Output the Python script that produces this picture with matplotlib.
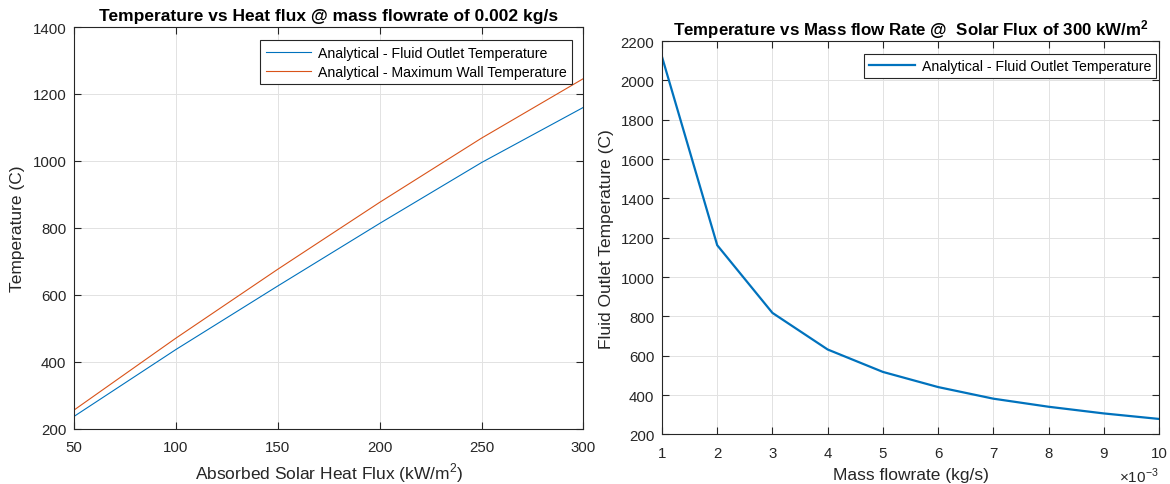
"""
Temperature vs heat flux / mass flowrate, MATLAB-like look.
"""
import matplotlib
matplotlib.use("Agg")
import matplotlib.pyplot as plt
from matplotlib.ticker import FuncFormatter

# left panel: heat flux sweep @ 0.002 kg/s
heat_flux = [50, 100, 150, 200, 250, 300]
fluid_outlet_t = [236, 436, 626, 813, 995, 1160]
max_wall_t = [255, 470, 676, 876, 1068, 1246]

# right panel: mass flow sweep @ 300 kW/m2
mass_flow = [0.001, 0.002, 0.003, 0.004, 0.005, 0.006, 0.007, 0.008, 0.009, 0.010]
outlet_t_mflow = [2120, 1162, 818, 632, 518, 441, 382, 341, 307, 279]

BLUE = "#0072BD"
ORANGE = "#D95319"
DARK = "#262626"

plt.rcParams["font.family"] = ["Liberation Sans", "DejaVu Sans"]
plt.rcParams["mathtext.fontset"] = "custom"
plt.rcParams["mathtext.rm"] = "Liberation Sans"
plt.rcParams["mathtext.bf"] = "Liberation Sans:bold"


def style_axes(ax):
    ax.grid(True, color="#e2e2e2", linewidth=0.7)
    ax.set_axisbelow(True)
    for s in ax.spines.values():
        s.set_color(DARK)
        s.set_linewidth(0.8)
    ax.tick_params(direction="in", top=True, right=True, length=5, width=0.8,
                   colors=DARK, labelsize=10.8, labelcolor=DARK)
    ax.tick_params(axis="x", pad=8)
    ax.tick_params(axis="y", pad=5.5)


def style_legend(leg):
    leg.get_frame().set_edgecolor(DARK)
    leg.get_frame().set_linewidth(0.8)
    leg.get_frame().set_alpha(1)


fig = plt.figure(figsize=(11.7, 4.85), dpi=100)

ax1 = fig.add_axes([0.0632, 0.1144, 0.4355, 0.8278])
ax1.plot(heat_flux, fluid_outlet_t, color=BLUE, lw=0.8, label="Analytical - Fluid Outlet Temperature")
ax1.plot(heat_flux, max_wall_t, color=ORANGE, lw=0.8, label="Analytical - Maximum Wall Temperature")
ax1.set_xlim(50, 300)
ax1.set_ylim(200, 1400)
ax1.set_xticks([50, 100, 150, 200, 250, 300])
ax1.set_yticks(range(200, 1401, 200))
style_axes(ax1)
ax1.set_xlabel("Absorbed Solar Heat Flux (kW/m$^2$)", fontsize=12.5, color=DARK, labelpad=5)
ax1.set_ylabel("Temperature (C)", fontsize=12.5, color=DARK, labelpad=5)
ax1.set_title("Temperature vs Heat flux @ mass flowrate of 0.002 kg/s",
              fontsize=12.5, fontweight="bold", pad=5)
leg1 = ax1.legend(loc="upper right", bbox_to_anchor=(1 - 11 / 509.5, 1 - 13 / 401.5),
                  fontsize=10.2, frameon=True, fancybox=False,
                  handlelength=3.2, handletextpad=0.5, borderaxespad=0,
                  borderpad=0.4, labelspacing=0.35)
style_legend(leg1)

ax2 = fig.add_axes([0.5658, 0.1021, 0.4248, 0.8113])
ax2.plot(mass_flow, outlet_t_mflow, color=BLUE, lw=1.6, label="Analytical - Fluid Outlet Temperature")
ax2.set_xlim(0.001, 0.010)
ax2.set_ylim(200, 2200)
ax2.set_xticks(mass_flow)
ax2.set_yticks(range(200, 2201, 200))
ax2.xaxis.set_major_formatter(FuncFormatter(lambda v, _: f"{v * 1e3:g}"))
style_axes(ax2)
ax2.text(1.0, -0.105, r"$\times10^{-3}$", transform=ax2.transAxes, ha="right", va="center",
         fontsize=11, color=DARK)
ax2.set_xlabel("Mass flowrate (kg/s)", fontsize=12.5, color=DARK, labelpad=5)
ax2.set_ylabel("Fluid Outlet Temperature (C)", fontsize=12.5, color=DARK, labelpad=5)
ax2.set_title(r"Temperature vs Mass flow Rate @  Solar Flux of 300 kW/m$\mathbf{^2}$",
              fontsize=12.2, fontweight="bold", pad=5)
leg2 = ax2.legend(loc="upper right", bbox_to_anchor=(1 - 3 / 497, 1 - 13 / 393.5),
                  fontsize=10.2, frameon=True, fancybox=False,
                  handlelength=3.2, handletextpad=0.5, borderaxespad=0, borderpad=0.35)
style_legend(leg2)

fig.savefig("out.png", dpi=100)
